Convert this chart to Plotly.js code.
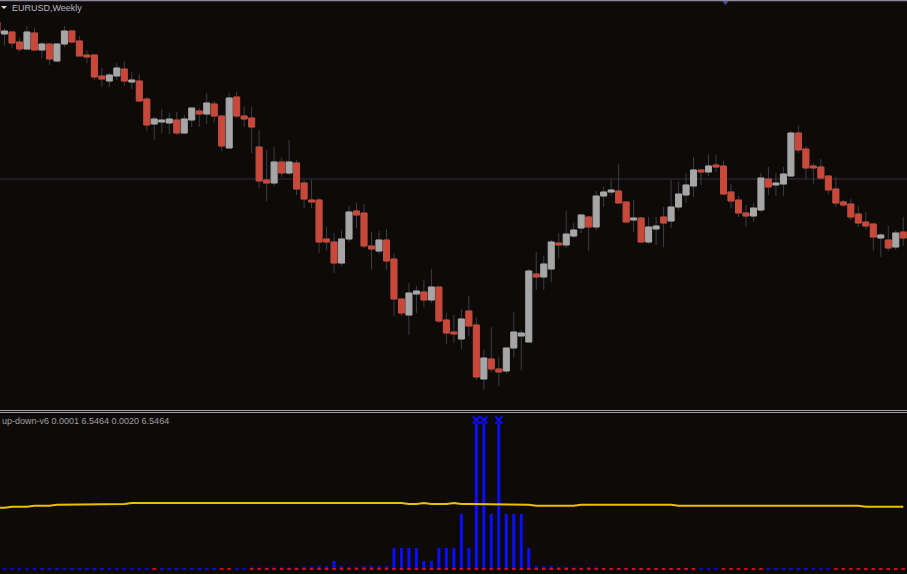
<!DOCTYPE html>
<html><head><meta charset="utf-8">
<script src="https://cdn.plot.ly/plotly-3.0.1.min.js"></script>
<style>html,body{margin:0;padding:0;background:#0d0a08;}#chart{width:907px;height:574px;}</style>
</head><body><div id="chart"></div>
<script>
// ---------- data ----------
const symbolLabel = 'EURUSD,Weekly';
const indicatorLabel = 'up-down-v6 0.0001 6.5464 0.0020 6.5464';
const firstBar = -1;           // index of the first (partly hidden) weekly bar
const levelPrice = 1.231;      // horizontal level line

const open = [1.388,1.376,1.378,1.368,1.361,1.377,1.360,1.366,1.349,1.366,1.379,1.369,1.355,1.355,1.334,1.329,1.334,1.341,1.328,1.329,
1.311,1.286,1.288,1.287,1.290,1.277,1.290,1.299,1.296,1.306,1.294,1.262,1.313,1.294,1.292,1.263,1.230,1.227,1.248,1.237,
1.247,1.227,1.210,1.210,1.171,1.168,1.147,1.171,1.199,1.197,1.164,1.159,1.170,1.151,1.111,1.095,1.116,1.118,1.110,1.123,
1.090,1.078,1.071,1.099,1.085,1.031,1.051,1.041,1.039,1.062,1.074,1.068,1.136,1.133,1.141,1.167,1.165,1.174,1.182,1.193,
1.183,1.214,1.218,1.219,1.208,1.190,1.192,1.168,1.181,1.193,1.189,1.203,1.215,1.224,1.240,1.238,1.245,1.244,1.218,1.210,
1.197,1.194,1.200,1.231,1.225,1.226,1.234,1.277,1.261,1.244,1.243,1.234,1.221,1.208,1.206,1.196,1.188,1.186,1.172,1.170,
1.163,1.178];
const high = [1.392,1.382,1.379,1.372,1.384,1.382,1.368,1.366,1.367,1.384,1.380,1.374,1.360,1.355,1.342,1.337,1.347,1.349,1.338,1.336,
1.313,1.293,1.301,1.297,1.298,1.295,1.302,1.302,1.317,1.309,1.294,1.317,1.318,1.303,1.303,1.280,1.260,1.263,1.252,1.270,
1.250,1.230,1.230,1.212,1.183,1.177,1.180,1.204,1.207,1.206,1.178,1.179,1.181,1.156,1.112,1.127,1.124,1.130,1.141,1.124,
1.097,1.095,1.101,1.114,1.092,1.060,1.083,1.053,1.063,1.098,1.080,1.141,1.158,1.154,1.170,1.177,1.199,1.187,1.196,1.194,
1.219,1.223,1.231,1.246,1.209,1.210,1.193,1.193,1.193,1.203,1.230,1.228,1.237,1.253,1.241,1.256,1.255,1.249,1.226,1.214,
1.205,1.207,1.237,1.243,1.237,1.243,1.279,1.284,1.264,1.247,1.251,1.234,1.233,1.210,1.211,1.204,1.198,1.186,1.177,1.184,
1.180,1.193];
const low = [1.374,1.364,1.362,1.358,1.360,1.359,1.352,1.345,1.348,1.363,1.367,1.354,1.347,1.330,1.323,1.323,1.330,1.324,1.321,1.308,
1.279,1.270,1.277,1.276,1.275,1.276,1.283,1.283,1.286,1.288,1.259,1.262,1.292,1.283,1.257,1.222,1.209,1.224,1.233,1.235,
1.215,1.202,1.202,1.157,1.160,1.137,1.144,1.168,1.182,1.162,1.140,1.156,1.140,1.094,1.094,1.075,1.097,1.103,1.107,1.087,
1.066,1.067,1.061,1.074,1.030,1.020,1.038,1.024,1.036,1.052,1.040,1.068,1.120,1.120,1.128,1.152,1.162,1.172,1.177,1.159,
1.180,1.203,1.214,1.207,1.187,1.178,1.167,1.166,1.165,1.163,1.182,1.200,1.207,1.213,1.225,1.234,1.238,1.215,1.202,1.193,
1.183,1.188,1.198,1.215,1.214,1.214,1.233,1.257,1.231,1.226,1.230,1.216,1.203,1.203,1.190,1.183,1.180,1.159,1.153,1.159,
1.160,1.164];
const close = [1.377,1.379,1.367,1.361,1.378,1.360,1.366,1.351,1.366,1.379,1.368,1.354,1.353,1.333,1.331,1.335,1.342,1.329,1.330,1.309,
1.285,1.291,1.290,1.291,1.277,1.291,1.302,1.296,1.307,1.294,1.264,1.312,1.294,1.291,1.283,1.229,1.227,1.248,1.237,1.248,
1.221,1.211,1.208,1.168,1.168,1.147,1.171,1.198,1.195,1.164,1.161,1.170,1.149,1.111,1.097,1.117,1.119,1.110,1.123,1.089,
1.077,1.076,1.091,1.084,1.033,1.052,1.041,1.038,1.062,1.078,1.077,1.139,1.133,1.146,1.168,1.165,1.176,1.180,1.195,1.183,
1.214,1.218,1.220,1.207,1.188,1.192,1.168,1.183,1.184,1.187,1.203,1.216,1.225,1.240,1.238,1.244,1.243,1.216,1.209,1.197,
1.194,1.202,1.232,1.223,1.227,1.236,1.277,1.260,1.242,1.242,1.232,1.220,1.207,1.205,1.193,1.187,1.184,1.173,1.175,1.162,
1.177,1.172];

// indicator "up-down-v6"
const upHist = [0,
0,0,0,0,0,0,0,0,0,0, 0,0,0,0,0,0,0,0,0,0, 0,0,0,0,0,0,0,0,0,0, 0,0,0,
0.15,0.15,0.15,0.15,0.15,0.15,0.15,
0.25,0.25,0.3,0.3,0.8,0.3,0.2,0.2,0.3,0.3, 0.3,0.3,2.1,2.1,2.1,2.1,0.8,0.8,2.1,2.1,
2.1,5.5,2.1,14.6,14.6,5.5,14.6,5.5,5.5,5.5, 2.1,0.3,0.3,0.3,0.2,0.2,0.15,0.15,0.2,0.15,
0.1,0.1,0.1,0.1,0.1,0.1,0.1,0.1,0.1,0.1,0.1,0.1,0.1,
0,0,0,0,0,0,0,0,0,0,0,0,0,0,0,0,0,0,0,0,0,0,0,0,0,0,0,0];
const downFlag = [0,
0,0,0,0,0,0,0,0,0,0,0,0,0,0,0,0,0,0,0,0,
1,
0,0,0,0,0,0,0,0,
1,1,
0,0,
1,1,1,1,1,1,1,1,1,1,1,1,1,1,1,1,1,1,1,1,1,1,1,1,1,1,1,1,1,1,
1,1,1,1,1,1,1,1,1,1,1,1,1,1,1,1,1,1,1,1,1,1,1,1,1,1,1,1,1,1,
0,0,0,
1,1,1,1,1,1,
0,0,0,0,0,0,0,0,0,
1,1,1,1,1,1,1,1,1,1];
const signalLine = [6.13,
6.13,6.23,6.23,6.23,6.33,6.33,6.33,6.43,6.43,6.43,6.43,
6.5,6.5,6.5,6.5,6.5,6.5,
6.6,6.6,6.6,6.6,6.6,6.6,6.6,6.6,
6.67,6.67,6.67,6.67,6.67,6.67,6.67,6.67,6.67,6.67,6.67,6.67,6.67,6.67,6.67,6.67,6.67,6.67,6.67,6.67,6.67,6.67,6.67,
6.6,6.6,6.6,6.6,6.6,6.6,
6.5,6.5,6.6,6.5,6.5,6.5,6.6,
6.5,6.5,6.5,6.5,6.5,6.5,
6.43,6.43,6.43,6.43,
6.33,6.33,6.33,6.33,6.33,6.33,
6.43,6.43,6.43,6.43,6.43,6.43,6.43,6.43,6.43,6.43,6.43,6.43,6.43,
6.33,6.33,6.33,6.33,6.33,6.33,6.33,6.33,6.33,6.33,6.33,6.33,6.33,6.33,6.33,6.33,6.33,6.33,6.33,6.33,6.33,6.33,6.33,6.33,6.33,
6.23,6.23,6.23,6.23,6.23,6.23];
const histCap = 14.6;     // bars at or above this are clipped and flagged
const capMarkLevel = 14.9;

// ---------- drawing ----------
const BG = '#0d0a08';
const WICK = '#3a3f48';
const BULL = '#a6a6a6';
const BEAR = '#c8483a';
const BLUE = '#0c0cff';

const xs = open.map((_, i) => i + firstBar);
const bodyHigh = open.map((o, i) => Math.max(o, close[i]));
const bodyLow = open.map((o, i) => Math.min(o, close[i]));
const capX = xs.filter((_, i) => upHist[i] >= histCap);

const traces = [
  { type: 'candlestick', x: xs, open: open, high: high, low: low, close: close,
    xaxis: 'x', yaxis: 'y', hoverinfo: 'skip',
    increasing: { line: { color: WICK, width: 1 }, fillcolor: WICK },
    decreasing: { line: { color: WICK, width: 1 }, fillcolor: WICK } },
  { type: 'candlestick', x: xs, open: open, high: bodyHigh, low: bodyLow, close: close,
    xaxis: 'x', yaxis: 'y', hoverinfo: 'skip',
    increasing: { line: { color: BULL, width: 1 }, fillcolor: BULL },
    decreasing: { line: { color: BEAR, width: 1 }, fillcolor: BEAR } },
  { type: 'bar', x: xs, y: upHist, xaxis: 'x', yaxis: 'y2', width: 0.4,
    marker: { color: BLUE, line: { width: 0 } }, hoverinfo: 'skip' },
  { type: 'scatter', mode: 'lines', x: xs, y: signalLine, xaxis: 'x', yaxis: 'y2',
    line: { color: '#e8c200', width: 2 }, hoverinfo: 'skip' },
  { type: 'scatter', mode: 'markers', x: xs, y: xs.map(() => 0), xaxis: 'x', yaxis: 'y2',
    marker: { symbol: 'line-ew', size: 2.5, line: { width: 1.6, color: downFlag.map(f => f ? '#ff1010' : BLUE) } },
    hoverinfo: 'skip' },
  { type: 'scatter', mode: 'markers', x: capX, y: capX.map(() => capMarkLevel), xaxis: 'x', yaxis: 'y2',
    marker: { symbol: 'x-thin', size: 7, line: { width: 2, color: BLUE } }, hoverinfo: 'skip' }
];

const W = 907, H = 574;
const px = v => v / W;
const py = v => 1 - v / H;

const layout = {
  width: W, height: H,
  margin: { l: 0, r: 0, t: 0, b: 0, pad: 0 },
  paper_bgcolor: BG, plot_bgcolor: BG,
  showlegend: false,
  boxmode: 'overlay', boxgap: 0.2, boxgroupgap: 0,
  barmode: 'overlay',
  xaxis: { range: [-0.6, 120.5], visible: false, fixedrange: true, rangeslider: { visible: false } },
  yaxis: { domain: [py(409), 1], range: [1.001, 1.410], visible: false, fixedrange: true },
  yaxis2: { domain: [0, py(413)], range: [-0.5, 15.6], visible: false, fixedrange: true },
  shapes: [
    { type: 'line', xref: 'paper', yref: 'y', x0: 0, x1: 1, y0: levelPrice, y1: levelPrice,
      line: { color: '#30303f', width: 1 }, layer: 'below' },
    { type: 'line', xref: 'paper', yref: 'paper', x0: 0, x1: 1, y0: py(0.5), y1: py(0.5),
      line: { color: '#8a8a9c', width: 1.5 } },
    { type: 'line', xref: 'paper', yref: 'paper', x0: 0, x1: 1, y0: py(410.5), y1: py(410.5),
      line: { color: '#a2a2aa', width: 1 } },
    { type: 'line', xref: 'paper', yref: 'paper', x0: 0, x1: 1, y0: py(412.5), y1: py(412.5),
      line: { color: '#a2a2aa', width: 1 } },
    { type: 'path', xref: 'paper', yref: 'paper',
      path: `M ${px(722)} ${py(1)} L ${px(729)} ${py(1)} L ${px(725.5)} ${py(5)} Z`,
      fillcolor: '#4a4a82', line: { width: 0 } },
    { type: 'path', xref: 'paper', yref: 'paper',
      path: `M ${px(1)} ${py(6)} L ${px(7)} ${py(6)} L ${px(4)} ${py(9)} Z`,
      fillcolor: '#d8d8d8', line: { width: 0 } }
  ],
  annotations: [
    { text: symbolLabel, xref: 'paper', yref: 'paper', x: px(10), y: py(8),
      xanchor: 'left', yanchor: 'middle', showarrow: false,
      font: { family: 'Liberation Sans, Arial, sans-serif', size: 9, color: '#b8b8c0' } },
    { text: indicatorLabel, xref: 'paper', yref: 'paper', x: px(0), y: py(420.5),
      xanchor: 'left', yanchor: 'middle', showarrow: false,
      font: { family: 'Liberation Sans, Arial, sans-serif', size: 9, color: '#a0a0a0' } }
  ]
};

Plotly.newPlot('chart', traces, layout, { staticPlot: true, displayModeBar: false });
</script>
</body></html>
